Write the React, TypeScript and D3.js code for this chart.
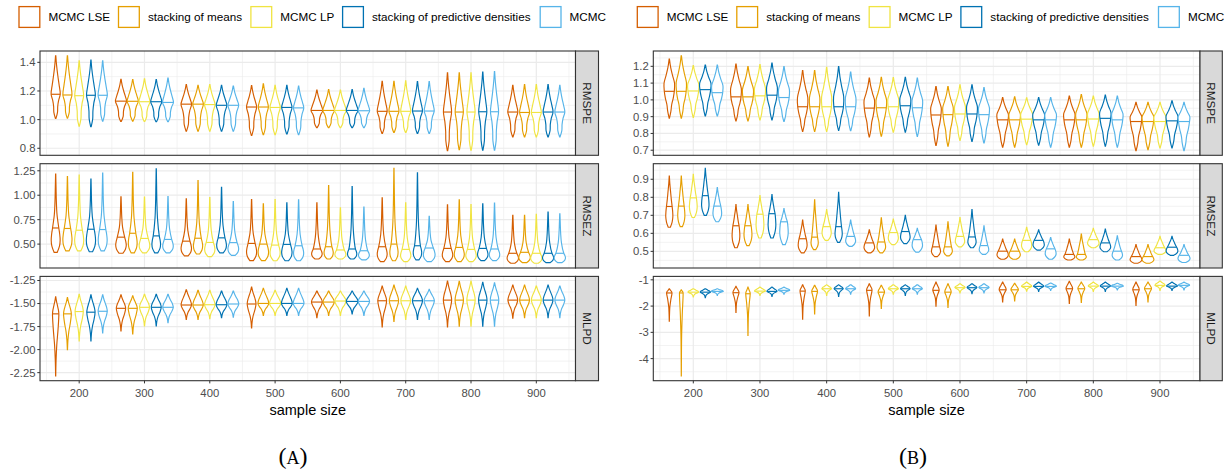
import React from "react";
import * as d3 from "d3";

const methods = ["MCMC LSE", "stacking of means", "MCMC LP", "stacking of predictive densities", "MCMC"];
const methodColors = ["#D55E00", "#E69F00", "#F0E442", "#0072B2", "#56B4E9"];
const sampleSizes = [200, 300, 400, 500, 600, 700, 800, 900];
const metrics = ["RMSPE", "RMSEZ", "MLPD"];
const xTicks = [200, 300, 400, 500, 600, 700, 800, 900];

// one row per sample size, one [min, median, max] per method
const aRMSPE = [
  [[1.008, 1.177, 1.446], [1.010, 1.172, 1.446], [0.955, 1.167, 1.410], [0.950, 1.170, 1.415], [0.990, 1.170, 1.410]],
  [[0.987, 1.129, 1.281], [0.990, 1.128, 1.280], [0.987, 1.125, 1.285], [0.985, 1.125, 1.280], [0.985, 1.120, 1.290]],
  [[0.920, 1.108, 1.245], [0.920, 1.108, 1.240], [0.920, 1.105, 1.245], [0.920, 1.100, 1.240], [0.920, 1.100, 1.235]],
  [[0.890, 1.088, 1.238], [0.895, 1.088, 1.250], [0.895, 1.085, 1.240], [0.900, 1.085, 1.240], [0.895, 1.082, 1.235]],
  [[0.944, 1.064, 1.206], [0.944, 1.064, 1.210], [0.944, 1.064, 1.206], [0.944, 1.064, 1.210], [0.944, 1.062, 1.218]],
  [[0.903, 1.058, 1.268], [0.910, 1.058, 1.268], [0.910, 1.058, 1.270], [0.903, 1.060, 1.265], [0.903, 1.060, 1.265]],
  [[0.784, 1.053, 1.327], [0.790, 1.053, 1.327], [0.786, 1.053, 1.327], [0.786, 1.055, 1.332], [0.786, 1.055, 1.336]],
  [[0.880, 1.053, 1.240], [0.880, 1.050, 1.245], [0.880, 1.050, 1.245], [0.880, 1.053, 1.245], [0.880, 1.053, 1.240]],
];
const aRMSEZ = [
  [[0.416, 0.665, 1.216], [0.430, 0.660, 1.190], [0.430, 0.642, 1.206], [0.422, 0.652, 1.166], [0.430, 0.649, 1.226]],
  [[0.406, 0.571, 0.983], [0.410, 0.611, 1.233], [0.410, 0.558, 0.980], [0.410, 0.584, 1.270], [0.410, 0.548, 0.985]],
  [[0.379, 0.530, 0.963], [0.399, 0.560, 1.149], [0.372, 0.517, 0.975], [0.410, 0.564, 1.081], [0.385, 0.515, 0.936]],
  [[0.331, 0.507, 0.956], [0.331, 0.500, 0.913], [0.330, 0.490, 0.956], [0.330, 0.497, 0.923], [0.330, 0.483, 0.953]],
  [[0.348, 0.450, 0.923], [0.348, 0.473, 1.098], [0.348, 0.440, 0.872], [0.348, 0.450, 1.088], [0.338, 0.432, 0.878]],
  [[0.321, 0.473, 0.973], [0.330, 0.500, 1.274], [0.321, 0.446, 0.923], [0.338, 0.483, 1.230], [0.321, 0.460, 0.784]],
  [[0.321, 0.456, 0.902], [0.321, 0.466, 0.953], [0.321, 0.446, 0.905], [0.331, 0.456, 0.913], [0.331, 0.450, 0.920]],
  [[0.304, 0.406, 0.794], [0.310, 0.416, 0.794], [0.304, 0.406, 0.804], [0.310, 0.406, 0.828], [0.310, 0.406, 0.810]],
];
const aMLPD = [
  [[-2.286, -1.612, -1.428], [-2.002, -1.612, -1.435], [-1.906, -1.587, -1.399], [-1.906, -1.594, -1.406], [-1.818, -1.584, -1.406]],
  [[-1.797, -1.552, -1.406], [-1.829, -1.552, -1.417], [-1.743, -1.541, -1.399], [-1.743, -1.541, -1.399], [-1.707, -1.541, -1.399]],
  [[-1.672, -1.516, -1.350], [-1.672, -1.516, -1.356], [-1.665, -1.513, -1.356], [-1.654, -1.513, -1.364], [-1.648, -1.505, -1.364]],
  [[-1.765, -1.505, -1.321], [-1.630, -1.499, -1.335], [-1.630, -1.499, -1.356], [-1.630, -1.499, -1.335], [-1.630, -1.499, -1.335]],
  [[-1.654, -1.484, -1.364], [-1.630, -1.484, -1.364], [-1.630, -1.473, -1.364], [-1.612, -1.477, -1.364], [-1.630, -1.477, -1.364]],
  [[-1.754, -1.470, -1.310], [-1.694, -1.470, -1.300], [-1.672, -1.470, -1.310], [-1.672, -1.470, -1.335], [-1.672, -1.470, -1.346]],
  [[-1.754, -1.463, -1.257], [-1.747, -1.463, -1.260], [-1.747, -1.463, -1.257], [-1.747, -1.463, -1.271], [-1.747, -1.463, -1.275]],
  [[-1.659, -1.463, -1.300], [-1.654, -1.463, -1.300], [-1.654, -1.463, -1.310], [-1.654, -1.463, -1.300], [-1.654, -1.463, -1.310]],
];
const bRMSPE = [
  [[0.891, 1.051, 1.243], [0.891, 1.051, 1.263], [0.896, 1.053, 1.204], [0.904, 1.061, 1.208], [0.904, 1.043, 1.208]],
  [[0.875, 1.018, 1.214], [0.875, 1.018, 1.198], [0.881, 1.024, 1.210], [0.881, 1.028, 1.220], [0.871, 1.014, 1.198]],
  [[0.812, 0.959, 1.175], [0.812, 0.959, 1.175], [0.812, 0.959, 1.194], [0.818, 0.959, 1.198], [0.816, 0.959, 1.165]],
  [[0.779, 0.951, 1.130], [0.783, 0.953, 1.135], [0.808, 0.959, 1.133], [0.808, 0.965, 1.135], [0.782, 0.953, 1.130]],
  [[0.728, 0.910, 1.080], [0.724, 0.912, 1.080], [0.759, 0.916, 1.090], [0.753, 0.916, 1.090], [0.743, 0.912, 1.073]],
  [[0.718, 0.881, 1.014], [0.718, 0.881, 1.018], [0.733, 0.885, 1.012], [0.730, 0.881, 1.014], [0.718, 0.881, 1.014]],
  [[0.718, 0.881, 1.022], [0.718, 0.881, 1.032], [0.724, 0.886, 1.022], [0.724, 0.890, 1.028], [0.718, 0.881, 1.022]],
  [[0.698, 0.871, 0.985], [0.704, 0.871, 0.985], [0.714, 0.871, 0.985], [0.714, 0.875, 0.994], [0.698, 0.871, 0.985]],
];
const bRMSEZ = [
  [[0.634, 0.749, 0.918], [0.637, 0.751, 0.918], [0.688, 0.797, 0.927], [0.700, 0.809, 0.960], [0.664, 0.751, 0.854]],
  [[0.520, 0.642, 0.760], [0.532, 0.642, 0.760], [0.574, 0.706, 0.809], [0.574, 0.709, 0.815], [0.537, 0.664, 0.737]],
  [[0.492, 0.570, 0.673], [0.510, 0.579, 0.786], [0.561, 0.637, 0.732], [0.550, 0.637, 0.827], [0.528, 0.583, 0.673]],
  [[0.492, 0.547, 0.619], [0.492, 0.552, 0.686], [0.537, 0.604, 0.679], [0.543, 0.610, 0.700], [0.496, 0.565, 0.628]],
  [[0.471, 0.525, 0.646], [0.475, 0.525, 0.664], [0.525, 0.583, 0.688], [0.520, 0.580, 0.732], [0.483, 0.532, 0.641]],
  [[0.456, 0.501, 0.568], [0.456, 0.501, 0.568], [0.498, 0.561, 0.634], [0.507, 0.561, 0.619], [0.456, 0.514, 0.577]],
  [[0.452, 0.483, 0.568], [0.452, 0.483, 0.596], [0.520, 0.565, 0.628], [0.498, 0.547, 0.623], [0.452, 0.501, 0.586]],
  [[0.434, 0.471, 0.537], [0.434, 0.471, 0.537], [0.483, 0.520, 0.583], [0.478, 0.523, 0.583], [0.438, 0.478, 0.537]],
];
const bMLPD = [
  [[-2.57, -1.50, -1.34], [-4.66, -1.50, -1.38], [-1.65, -1.47, -1.34], [-1.68, -1.47, -1.34], [-1.59, -1.44, -1.34]],
  [[-2.24, -1.49, -1.25], [-3.12, -1.53, -1.28], [-1.59, -1.43, -1.28], [-1.63, -1.44, -1.28], [-1.55, -1.40, -1.28]],
  [[-2.50, -1.43, -1.19], [-2.30, -1.44, -1.21], [-1.59, -1.34, -1.19], [-1.63, -1.34, -1.19], [-1.55, -1.34, -1.19]],
  [[-2.37, -1.40, -1.15], [-2.09, -1.47, -1.21], [-1.55, -1.34, -1.19], [-1.59, -1.34, -1.19], [-1.55, -1.34, -1.19]],
  [[-2.00, -1.40, -1.09], [-2.05, -1.47, -1.15], [-1.50, -1.30, -1.15], [-1.53, -1.30, -1.15], [-1.50, -1.30, -1.15]],
  [[-1.84, -1.38, -1.09], [-1.80, -1.38, -1.13], [-1.43, -1.25, -1.09], [-1.44, -1.25, -1.09], [-1.40, -1.25, -1.12]],
  [[-1.90, -1.34, -1.06], [-1.86, -1.34, -1.09], [-1.44, -1.24, -1.09], [-1.44, -1.24, -1.09], [-1.38, -1.24, -1.13]],
  [[-1.97, -1.38, -1.09], [-1.84, -1.34, -1.09], [-1.40, -1.21, -1.05], [-1.40, -1.24, -1.09], [-1.38, -1.21, -1.09]],
];

// relative violin width from min (-1) through median (0) to max (1)
const shapeARMSPE = [0.05, 0.4, 0.45, 0.65, 1.0, 0.75, 0.45, 0.2, 0.03];
const shapeARMSEZ = [0.35, 0.85, 1.0, 0.9, 0.7, 0.3, 0.15, 0.08, 0.02];
const shapeAMLPD = [0.02, 0.12, 0.35, 0.75, 1.0, 0.85, 0.55, 0.25, 0.03];
const shapeBRMSPE = [0.03, 0.3, 0.45, 0.75, 0.95, 1.0, 0.6, 0.25, 0.03];
const shapeBRMSEZ = [0.3, 0.8, 1.0, 0.95, 0.8, 0.55, 0.35, 0.15, 0.02];
const shapeBMLPD = [0.02, 0.08, 0.2, 0.55, 1.0, 0.9, 0.6, 0.3, 0.05];
const tGrid = [-1, -0.75, -0.5, -0.25, 0, 0.25, 0.5, 0.75, 1];

const ticksARMSPE = [0.8, 1.0, 1.2, 1.4];
const ticksARMSEZ = [0.5, 0.75, 1.0, 1.25];
const ticksAMLPD = [-2.25, -2.0, -1.75, -1.5, -1.25];
const ticksBRMSPE = [0.7, 0.8, 0.9, 1.0, 1.1, 1.2];
const ticksBRMSEZ = [0.5, 0.6, 0.7, 0.8, 0.9];
const ticksBMLPD = [-4, -3, -2, -1];

const FONT = "'Liberation Sans', Arial, Helvetica, sans-serif";
const dodge = [-36, -18, 0, 18, 36];
const facetTops = [51, 163.7, 276.4];
const facetH = 104.3;

const plots = [
  {
    label: "A", ox: 0, left: 40, right: 575.5, stripW: 23, captionX: 293,
    data: [aRMSPE, aRMSEZ, aMLPD], shapes: [shapeARMSPE, shapeARMSEZ, shapeAMLPD],
    ticks: [ticksARMSPE, ticksARMSEZ, ticksAMLPD], digits: [1, 2, 2],
  },
  {
    label: "B", ox: 618.3, left: 653.3, right: 1200, stripW: 22.3, captionX: 913,
    data: [bRMSPE, bRMSEZ, bMLPD], shapes: [shapeBRMSPE, shapeBRMSEZ, shapeBMLPD],
    ticks: [ticksBRMSPE, ticksBRMSEZ, ticksBMLPD], digits: [1, 1, 0],
  },
];
const legendKeyX = [18.4, 117.9, 250.3, 342, 539.6];

function fmt(v: number, d: number) {
  return v.toFixed(d);
}

function minorsOf(ticks: number[], domain: number[]) {
  const step = ticks[1] - ticks[0];
  const out: number[] = [];
  for (let i = -1; i < ticks.length; i++) {
    const m = ticks[0] + step * (i + 0.5);
    if (m > domain[0] && m < domain[1]) out.push(m);
  }
  return out;
}

function Plot({ p }: { p: any }) {
  const x = d3.scaleLinear().domain([140, 960]).range([p.left, p.right]);
  const halfMax = (x(149) - x(140));
  const xMinor = d3.range(150, 960, 100);

  return (
    <g>
      {metrics.map((metric, fi) => {
        const rows: number[][][] = p.data[fi];
        const all = rows.flat();
        const lo = d3.min(all, (v) => v[0]) as number;
        const hi = d3.max(all, (v) => v[2]) as number;
        const pad = (hi - lo) * 0.05;
        const top = facetTops[fi];
        const y = d3.scaleLinear().domain([lo - pad, hi + pad]).range([top + facetH, top]);
        const minSpread = d3.min(all, (v) => v[2] - v[0]) as number;
        const shape = p.shapes[fi];
        const area = d3
          .area<any>()
          .y((d) => d.y)
          .x0((d) => d.x0)
          .x1((d) => d.x1)
          .curve(d3.curveCatmullRom);
        const yMinor = minorsOf(p.ticks[fi], y.domain());
        return (
          <g key={metric}>
            <rect x={p.left} y={top} width={p.right - p.left} height={facetH} fill="#fff" />
            {yMinor.map((v) => (
              <line key={"ym" + v} x1={p.left} x2={p.right} y1={y(v)} y2={y(v)} stroke="#EBEBEB" strokeWidth={0.6} />
            ))}
            {xMinor.map((v) => (
              <line key={"xm" + v} x1={x(v)} x2={x(v)} y1={top} y2={top + facetH} stroke="#EBEBEB" strokeWidth={0.6} />
            ))}
            {p.ticks[fi].map((v: number) => (
              <line key={"yg" + v} x1={p.left} x2={p.right} y1={y(v)} y2={y(v)} stroke="#EBEBEB" strokeWidth={1.2} />
            ))}
            {xTicks.map((v) => (
              <line key={"xg" + v} x1={x(v)} x2={x(v)} y1={top} y2={top + facetH} stroke="#EBEBEB" strokeWidth={1.2} />
            ))}
            {rows.map((row, si) =>
              row.map((v, mi) => {
                const cx = x(sampleSizes[si] + dodge[mi]);
                const k = Math.max(0.3, Math.min(1, Math.sqrt(minSpread / (v[2] - v[0]))));
                const hw = halfMax * k;
                const pts = tGrid.map((t, i) => {
                  const val = t < 0 ? v[1] + t * (v[1] - v[0]) : v[1] + t * (v[2] - v[1]);
                  return { y: y(val), x0: cx - hw * shape[i], x1: cx + hw * shape[i] };
                });
                const mw = hw * shape[4];
                return (
                  <g key={si + "-" + mi}>
                    <path d={area(pts) || ""} fill="#fff" stroke={methodColors[mi]} strokeWidth={1.15} />
                    <line x1={cx - mw} x2={cx + mw} y1={y(v[1])} y2={y(v[1])} stroke={methodColors[mi]} strokeWidth={1.15} />
                  </g>
                );
              })
            )}
            <rect x={p.left} y={top} width={p.right - p.left} height={facetH} fill="none" stroke="#333" strokeWidth={1.1} />
            {p.ticks[fi].map((v: number) => (
              <g key={"yt" + v}>
                <line x1={p.left - 2.7} x2={p.left} y1={y(v)} y2={y(v)} stroke="#333" strokeWidth={1} />
                <text x={p.left - 4.5} y={y(v)} dy="0.35em" textAnchor="end" fontSize={11.3} fill="#4D4D4D" fontFamily={FONT}>
                  {fmt(v, p.digits[fi])}
                </text>
              </g>
            ))}
            <rect x={p.right} y={top} width={p.stripW} height={facetH} fill="#D9D9D9" stroke="#333" strokeWidth={1.1} />
            <text
              transform={`translate(${p.right + p.stripW / 2},${top + facetH / 2}) rotate(90)`}
              textAnchor="middle"
              dy="0.35em"
              fontSize={11.7}
              fill="#1A1A1A"
              fontFamily={FONT}
            >
              {metric}
            </text>
          </g>
        );
      })}
      {xTicks.map((v) => (
        <g key={"xt" + v}>
          <line x1={x(v)} x2={x(v)} y1={facetTops[2] + facetH} y2={facetTops[2] + facetH + 2.7} stroke="#333" strokeWidth={1} />
          <text x={x(v)} y={397} textAnchor="middle" fontSize={11.3} fill="#4D4D4D" fontFamily={FONT}>
            {v}
          </text>
        </g>
      ))}
      <text x={(p.left + p.right) / 2} y={414.5} textAnchor="middle" fontSize={14.5} fill="#000" fontFamily={FONT}>
        sample size
      </text>
      {methods.map((m, i) => (
        <g key={m}>
          <rect x={p.ox + legendKeyX[i] + 0.6} y={6.6} width={20.8} height={20.8} fill="#fff" stroke={methodColors[i]} strokeWidth={1.3} />
          <text x={p.ox + legendKeyX[i] + 30} y={17} dy="0.35em" fontSize={11.7} fill="#000" fontFamily={FONT}>
            {m}
          </text>
        </g>
      ))}
      <text x={p.captionX} y={464} textAnchor="middle" fontSize={24} fontFamily="'Liberation Serif', 'DejaVu Serif', serif" fill="#000">
        (<tspan fontSize={18}>{p.label}</tspan>)
      </text>
    </g>
  );
}

export default function App() {
  return (
    <svg
      width={1231}
      height={472}
      style={{ position: "absolute", left: 0, top: 0, background: "#fff" }}
    >
      {plots.map((p) => (
        <Plot key={p.label} p={p} />
      ))}
    </svg>
  );
}
